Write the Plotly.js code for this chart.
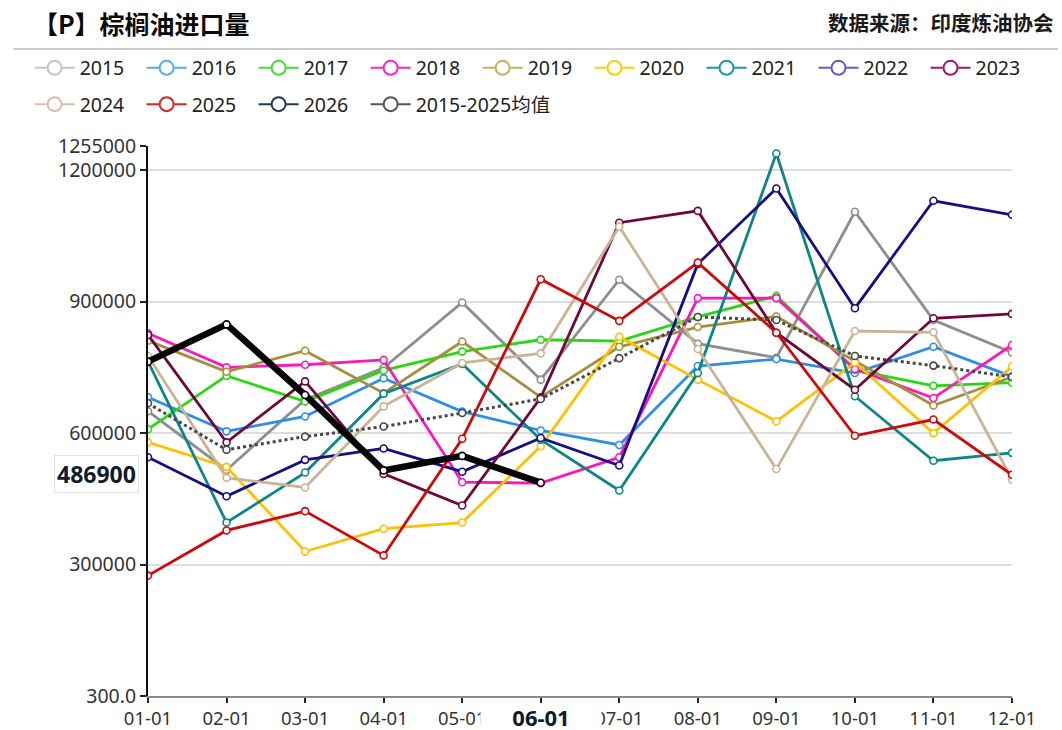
<!DOCTYPE html>
<html>
<head>
<meta charset="utf-8">
<script src="https://cdn.plot.ly/plotly-3.0.1.min.js"></script>
<style>
  html, body { margin: 0; padding: 0; background: #ffffff; }
  #chart { width: 1062px; height: 730px; }
</style>
</head>
<body>
<div id="chart"></div>
<script>
// Month labels on the x axis
const months = ['01-01', '02-01', '03-01', '04-01', '05-01', '06-01',
                '07-01', '08-01', '09-01', '10-01', '11-01', '12-01'];

// Monthly palm oil imports (tonnes), one array per year
const y2015 = [650000, 516000, 676000, 749000, 898000, 722000, 950000, 804000, 772000, 1105000, 858000, 784000];
const y2016 = [682000, 604000, 638000, 725000, 649000, 606000, 573000, 753000, 769000, 737000, 797000, 729000];
const y2017 = [609000, 731000, 672000, 743000, 786000, 813000, 810000, 865000, 913000, 744000, 708000, 715000];
const y2018 = [828000, 750000, 756000, 767000, 488000, 486000, 545000, 908000, 908000, 746000, 680000, 801000];
const y2019 = [811000, 740000, 788000, 691000, 809000, 682000, 797000, 842000, 866000, 764000, 663000, 728000];
const y2020 = [579000, 523000, 330000, 382000, 396000, 570000, 820000, 722000, 627000, 761000, 600000, 752000];
const y2021 = [763000, 396000, 510000, 690000, 758000, 585000, 469000, 737000, 1238000, 684000, 537000, 555000];
const y2022 = [545000, 456000, 539000, 565000, 512000, 589000, 526000, 986000, 1158000, 885000, 1130000, 1098000];
const y2023 = [824000, 579000, 718000, 507000, 435000, 681000, 1080000, 1107000, 829000, 699000, 862000, 872000];
const y2024 = [776000, 498000, 476000, 661000, 760000, 782000, 1071000, 792000, 518000, 833000, 830000, 494000];
const y2025 = [275000, 378000, 422000, 321000, 587000, 951000, 856000, 989000, 829000, 594000, 631000, 505000];
const y2026 = [763000, 848000, 687000, 515000, 548000, 486900];
const avg1525 = [668000, 562000, 592000, 615000, 646000, 678000, 771000, 865000, 858000, 776000, 754000, 728000];

// Y axis ticks
const yTickVals = [300, 300000, 600000, 900000, 1200000, 1255000];
const yTickText = ['300.0', '300000', '600000', '900000', '1200000', '1255000'];

// Highlighted values
const latestMonth = '06-01';
const latestValue = 486900;

// name, values, line colour, legend colour, legend box
const series = [
  ['2015', y2015, '#8e8e8e', '#c4c4c4', 'legend'],
  ['2016', y2016, '#2d8ee8', '#5aabf2', 'legend'],
  ['2017', y2017, '#26d80f', '#44dd33', 'legend'],
  ['2018', y2018, '#ff16b9', '#ff22c4', 'legend'],
  ['2019', y2019, '#a3903f', '#c8b060', 'legend'],
  ['2020', y2020, '#ffc000', '#f8d000', 'legend3'],
  ['2021', y2021, '#0f8585', '#1a9a9a', 'legend3'],
  ['2022', y2022, '#170e82', '#6a5ac8', 'legend3'],
  ['2023', y2023, '#6e0838', '#a01a6a', 'legend3'],
  ['2024', y2024, '#c9b496', '#d8c0a0', 'legend2'],
  ['2025', y2025, '#cc0a0a', '#dd2222', 'legend2']
];

const FONT = 'Noto Sans, "Noto Sans CJK SC", sans-serif';
const traces = [];

function lineTrace(name, vals, color, width, dash) {
  return {
    type: 'scatter', mode: 'lines+markers', name: name,
    x: months.slice(0, vals.length), y: vals,
    line: { color: color, width: width, dash: dash || 'solid' },
    marker: { symbol: 'circle', size: 7, color: '#ffffff', line: { color: color, width: 1.6 } },
    showlegend: false, hoverinfo: 'x+y+name'
  };
}

function legendTrace(name, color, legendId) {
  return {
    type: 'scatter', mode: 'lines+markers', name: name,
    x: [null], y: [null], legend: legendId,
    line: { color: color, width: 2 },
    marker: { symbol: 'circle', size: 14, color: '#ffffff', line: { color: color, width: 2 } },
    showlegend: true, hoverinfo: 'skip'
  };
}

series.forEach(s => traces.push(lineTrace(s[0], s[1], s[2], 2.8)));
traces.push(lineTrace('2015-2025均值', avg1525, '#474747', 3, 'dot'));
traces.push(lineTrace('2026', y2026, '#050505', 6.5));

series.forEach(s => traces.push(legendTrace(s[0], s[3], s[4])));
traces.push(legendTrace('2026', '#1e3a52', 'legend2'));
traces.push(legendTrace('2015-2025均值', '#555555', 'legend4'));

const legendBase = {
  orientation: 'h', xanchor: 'left', yanchor: 'top',
  font: { family: FONT, size: 19.5, color: '#222222' },
  bgcolor: 'rgba(0,0,0,0)', borderwidth: 0,
  entrywidth: 57, entrywidthmode: 'pixels', itemwidth: 40,
  itemclick: false, itemdoubleclick: false
};

const layout = {
  width: 1062, height: 730,
  paper_bgcolor: '#ffffff', plot_bgcolor: '#ffffff',
  margin: { l: 148, r: 50, t: 146, b: 34, autoexpand: false },
  font: { family: FONT, color: '#333333' },
  title: {
    text: '<b>【P】棕榈油进口量</b>',
    x: 0.031, xref: 'container', xanchor: 'left',
    y: 0.965, yref: 'container', yanchor: 'middle',
    font: { family: '"Noto Sans CJK SC", sans-serif', size: 25, color: '#0a0a0a' }
  },
  showlegend: true,
  legend: Object.assign({}, legendBase, { x: -0.137, y: 1.177 }),
  legend3: Object.assign({}, legendBase, { x: 0.511, y: 1.177 }),
  legend2: Object.assign({}, legendBase, { x: -0.137, y: 1.111 }),
  legend4: Object.assign({}, legendBase, { x: 0.2519, y: 1.111, entrywidth: 0 }),
  xaxis: {
    type: 'category', categoryorder: 'array', categoryarray: months,
    range: [0, 11], showgrid: false, zeroline: false,
    showline: true, linecolor: '#8a8a8a', linewidth: 2,
    ticks: 'outside', ticklen: 5, tickwidth: 1.5, tickcolor: '#222222',
    tickfont: { family: FONT, size: 18.5, color: '#333333' },
    fixedrange: true
  },
  yaxis: {
    range: [300, 1255000], tickmode: 'array',
    tickvals: yTickVals, ticktext: yTickText,
    showgrid: true, gridcolor: '#dddddd', gridwidth: 1.5, zeroline: false,
    showline: true, linecolor: '#111111', linewidth: 2,
    ticks: 'outside', ticklen: 6, tickwidth: 1.5, tickcolor: '#222222',
    tickfont: { family: FONT, size: 19.5, color: '#333333' },
    fixedrange: true
  },
  shapes: [
    { type: 'line', xref: 'paper', yref: 'paper', x0: -0.156, x1: 1.053, y0: 1.1765, y1: 1.1765,
      line: { color: '#cccccc', width: 2 } }
  ],
  annotations: [
    { xref: 'paper', yref: 'paper', x: 1.051, y: 1.2255, xanchor: 'right', yanchor: 'middle',
      text: '<b>数据来源：印度炼油协会</b>', showarrow: false,
      font: { family: '"Noto Sans CJK SC", sans-serif', size: 20.5, color: '#1a1a1a' } },
    { xref: 'paper', yref: 'y', x: 0, y: latestValue, xanchor: 'right', yanchor: 'middle',
      xshift: -9, yshift: 9, text: '<b>' + latestValue + '</b>', showarrow: false,
      bgcolor: '#ffffff', bordercolor: '#e2e2e2', borderwidth: 1, borderpad: 2,
      font: { family: FONT, size: 23, color: '#0d1b2a' } },
    { xref: 'x', yref: 'paper', x: latestMonth, y: 0, xanchor: 'center', yanchor: 'top',
      yshift: -7, width: 118, height: 23, text: '<b>' + latestMonth + '</b>', showarrow: false,
      bgcolor: '#ffffff', font: { family: FONT, size: 22, color: '#0d1b2a' } }
  ]
};

Plotly.newPlot('chart', traces, layout, { displayModeBar: false, responsive: false });
</script>
</body>
</html>
